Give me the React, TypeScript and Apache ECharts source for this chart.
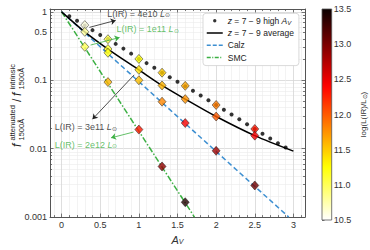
import React, { useEffect, useRef } from 'react';
import * as echarts from 'echarts';

// ---------- data ----------
const avTicks = [0, 0.5, 1, 1.5, 2, 2.5, 3];
const fTickLabels = [0.001, 0.01, 0.1, 0.5, 1];
const cbarTicks = [10.5, 11, 11.5, 12, 12.5, 13, 13.5];

const highAv = [0.1, 0.2, 0.3, 0.4, 0.5, 0.6, 0.7, 0.8, 0.9, 1.0, 1.1, 1.2, 1.3, 1.4, 1.5, 1.6, 1.7, 1.8, 1.9, 2.0, 2.1, 2.2, 2.3, 2.4, 2.5, 2.6, 2.7, 2.8, 2.9];
const highF = [0.86, 0.74, 0.63, 0.54, 0.46, 0.4, 0.34, 0.29, 0.245, 0.205, 0.178, 0.152, 0.129, 0.111, 0.095, 0.082, 0.07, 0.06, 0.051, 0.0435, 0.037, 0.0315, 0.027, 0.0228, 0.0194, 0.0165, 0.0141, 0.012, 0.0104];

const avgAv = [0, 0.3, 0.6, 1.0, 1.3, 1.6, 2.0, 2.5, 3.0];
const avgF = [1, 0.51, 0.286, 0.142, 0.084, 0.053, 0.0295, 0.0155, 0.0092];

const calzAv = [0, 2.94];
const calzF = [1, 0.001];
const smcAv = [0, 1.72];
const smcF = [1, 0.001];

const diamondAv = [0.3, 0.3, 0.3, 0.6, 0.6, 0.6, 0.6, 1.0, 1.0, 1.0, 1.0, 1.3, 1.3, 1.3, 1.3, 1.6, 1.6, 1.6, 1.6, 2.0, 2.0, 2.0, 2.5, 2.5, 2.5];
const diamondF = [0.64, 0.51, 0.308, 0.398, 0.286, 0.252, 0.094, 0.205, 0.142, 0.1, 0.019, 0.129, 0.084, 0.0486, 0.0055, 0.0828, 0.053, 0.0237, 0.00165, 0.0435, 0.0295, 0.0093, 0.0194, 0.0155, 0.0029];
const diamondLogL = [10.6, 10.8, 11.0, 11.05, 11.15, 11.2, 11.6, 11.25, 11.4, 11.55, 12.3, 11.5, 11.6, 11.8, 12.9, 11.65, 11.75, 12.45, 13.4, 11.85, 12.0, 12.85, 12.3, 12.45, 13.05];

const annotText = ['L(IR) = 4e10', 'L(IR) = 1e11', 'L(IR) = 3e11', 'L(IR) = 2e12'];
const annotAv = [0.59, 0.71, -0.09, -0.09];
const annotF = [0.935, 0.556, 0.0205, 0.0115];
const arrowFromAv = [0.36, 0.375, 0.94, 0.93];
const arrowFromF = [0.593, 0.327, 0.12, 0.0175];
const arrowToAv = [0.7, 0.75, 0.4, 0.64];
const arrowToF = [0.749, 0.422, 0.027, 0.0144];

// ---------- style ----------
const FONT = '"Liberation Sans", Arial, sans-serif';
const AXIS = '#555';
const BLUE = '#3d8fd1';
const GREEN = '#3cb043';
const annotColor = ['#222', GREEN, '#222', GREEN];
const CMIN = 10.5;
const CMAX = 13.5;

const lg = (v: number) => Math.log10(v);

// matplotlib "hot" colormap; the colour bar uses it reversed
function hot(x: number): string {
  const r = x < 0.365079 ? 0.0416 + (1 - 0.0416) * (x / 0.365079) : 1;
  const g = x < 0.365079 ? 0 : x < 0.746032 ? (x - 0.365079) / (0.746032 - 0.365079) : 1;
  const b = x < 0.746032 ? 0 : (x - 0.746032) / (1 - 0.746032);
  return `rgb(${Math.round(r * 255)},${Math.round(g * 255)},${Math.round(b * 255)})`;
}
const N = 41;
const gradStops: { offset: number; color: string }[] = [];
for (let i = 0; i < N; i++) gradStops.push({ offset: i / (N - 1), color: hot(i / (N - 1)) });

const yMin = -3;
const yMax = Math.log10(1.1);
const majorY = [-3, -2, -1, 0];
const minorY: number[] = [];
for (const d of [-3, -2, -1]) for (let k = 2; k <= 9; k++) minorY.push(Math.log10(k * Math.pow(10, d)));
const minorX: number[] = [];
for (let i = -1; i <= 31; i++) if (i % 5 !== 0) minorX.push(+(i * 0.1).toFixed(1));

const xBase = { type: 'value', min: -0.15, max: 3.15, gridIndex: 0 };
const yBase = { type: 'value', min: yMin, max: yMax, gridIndex: 0 };
const noLabel = { show: false };

function frameAxis(base: any, pos: string, ticks: number[], len: number, line: boolean, split: any) {
  return {
    ...base,
    position: pos,
    axisLine: { show: line, onZero: false, lineStyle: { color: AXIS, width: 1 } },
    axisTick: { show: true, inside: true, length: len, customValues: ticks, lineStyle: { color: AXIS, width: 0.8 } },
    axisLabel: noLabel,
    splitLine: split,
  };
}

const majorSplit = { show: true, lineStyle: { color: '#d6d6d6', width: 0.8 } };
const minorSplit = { show: true, lineStyle: { color: '#ebebeb', width: 0.6 } };

const option: any = {
  animation: false,
  backgroundColor: '#fff',
  textStyle: { fontFamily: FONT },
  grid: [
    { left: 50, right: 65, top: 9, bottom: 30 },
    { left: 322, width: 9.7, top: 9, bottom: 30 },
  ],
  legend: {
    left: 203,
    top: 13.3,
    orient: 'vertical',
    z: 10,
    selectedMode: false,
    itemWidth: 16,
    itemHeight: 8,
    itemGap: 2.3,
    padding: [2.4, 5, 3, 3],
    backgroundColor: '#fff',
    borderColor: '#cfcfcf',
    borderWidth: 0.8,
    borderRadius: 3,
    textStyle: {
      fontSize: 8.5,
      lineHeight: 10,
      color: '#222',
      fontFamily: FONT,
      rich: { i: { fontStyle: 'italic', fontSize: 8.5, lineHeight: 10 }, s: { fontSize: 6, lineHeight: 6, verticalAlign: 'bottom', fontStyle: 'italic' } },
    },
    data: [
      { name: 'high', icon: 'path://M0,0M16,8M6.3,4A1.7,1.7,0,0,1,9.7,4A1.7,1.7,0,0,1,6.3,4Z' },
      { name: 'avg', itemStyle: { opacity: 0 }, lineStyle: { color: '#000', width: 1.5, type: 'solid' } },
      { name: 'Calz', itemStyle: { opacity: 0 }, lineStyle: { color: BLUE, width: 1.5, type: [4, 2] } },
      { name: 'SMC', itemStyle: { opacity: 0 }, lineStyle: { color: GREEN, width: 1.5, type: [4, 1.5, 1, 1.5] } },
    ],
    formatter: (n: string) =>
      n === 'high' ? '{i|z} = 7 − 9 high {i|A}{s|V}' : n === 'avg' ? '{i|z} = 7 − 9 average' : n,
  },
  xAxis: [
    {
      ...frameAxis(xBase, 'bottom', avTicks, 3.5, true, majorSplit),
      axisLabel: { show: true, customValues: avTicks, formatter: (v: number) => String(v), fontSize: 9, color: '#333', margin: 3 },
      name: '{i|A}{s|V}',
      nameLocation: 'middle',
      nameGap: 13,
      nameTextStyle: { fontSize: 11, color: '#333', rich: { i: { fontStyle: 'italic', fontSize: 11 }, s: { fontSize: 7, lineHeight: 7, verticalAlign: 'bottom', fontStyle: 'italic' } } },
    },
    frameAxis(xBase, 'bottom', minorX, 2, false, minorSplit),
    frameAxis(xBase, 'top', avTicks, 3.5, true, { show: false }),
    frameAxis(xBase, 'top', minorX, 2, false, { show: false }),
    { type: 'value', gridIndex: 1, min: 0, max: 1, show: false },
  ],
  yAxis: [
    {
      ...frameAxis(yBase, 'left', majorY, 3.5, true, majorSplit),
      axisLabel: {
        show: true,
        customValues: fTickLabels.map(lg),
        formatter: (v: number) => String(Number(Math.pow(10, v).toPrecision(3))),
        fontSize: 9,
        color: '#333',
        margin: 3,
      },
    },
    frameAxis(yBase, 'left', minorY, 2, false, minorSplit),
    frameAxis(yBase, 'right', majorY, 3.5, true, { show: false }),
    frameAxis(yBase, 'right', minorY, 2, false, { show: false }),
    {
      type: 'value',
      gridIndex: 1,
      position: 'right',
      min: CMIN,
      max: CMAX,
      interval: 0.5,
      axisLine: { show: false },
      axisTick: { show: true, length: 2.5, customValues: cbarTicks, lineStyle: { color: AXIS, width: 0.8 } },
      axisLabel: { fontSize: 9, color: '#333', margin: 2, customValues: cbarTicks, formatter: (v: number) => v.toFixed(1) },
      splitLine: { show: false },
      name: 'log(L(IR)/L{s|⊙})',
      nameLocation: 'middle',
      nameRotate: 90,
      nameGap: 28,
      nameTextStyle: { fontSize: 8, color: '#333', rich: { s: { fontSize: 6, lineHeight: 6, verticalAlign: 'bottom' } } },
    },
  ],
  series: [
    {
      name: 'Calz',
      type: 'line',
      z: 2,
      symbol: 'none',
      silent: true,
      color: BLUE,
      lineStyle: { color: BLUE, width: 1.5, type: [5, 3] },
      data: calzAv.map((a, i) => [a, lg(calzF[i])]),
    },
    {
      name: 'SMC',
      type: 'line',
      z: 2,
      symbol: 'none',
      silent: true,
      color: GREEN,
      lineStyle: { color: GREEN, width: 1.5, type: [6, 2, 1.5, 2] },
      data: smcAv.map((a, i) => [a, lg(smcF[i])]),
    },
    {
      name: 'avg',
      type: 'line',
      z: 3,
      symbol: 'none',
      smooth: 0.3,
      silent: true,
      color: '#000',
      lineStyle: { color: '#000', width: 1.5 },
      data: avgAv.map((a, i) => [a, lg(avgF[i])]),
    },
    {
      name: 'high',
      type: 'scatter',
      z: 3,
      symbol: 'circle',
      symbolSize: 4,
      silent: true,
      itemStyle: { color: '#000' },
      data: highAv.map((a, i) => [a, lg(highF[i])]),
    },
    {
      name: 'diamonds',
      type: 'scatter',
      z: 4,
      symbol: 'diamond',
      symbolSize: [8, 9],
      silent: true,
      itemStyle: { borderColor: '#111', borderWidth: 0.6 },
      data: diamondAv.map((a, i) => ({
        value: [a, lg(diamondF[i]), diamondLogL[i]],
        itemStyle: { color: hot(1 - (diamondLogL[i] - CMIN) / (CMAX - CMIN)) },
      })),
    },
    {
      name: 'annot',
      type: 'scatter',
      z: 6,
      symbolSize: 0,
      silent: true,
      data: annotAv.map((a, i) => ({
        value: [a, lg(annotF[i])],
        label: {
          show: true,
          position: [0, 0],
          align: 'left',
          verticalAlign: 'middle',
          fontSize: 9,
          color: annotColor[i],
          formatter: annotText[i] + ' {i|L}{s|⊙}',
          rich: {
            i: { fontStyle: 'italic', fontSize: 9, color: annotColor[i] },
            s: { fontSize: 6, lineHeight: 6, verticalAlign: 'bottom', color: annotColor[i] },
          },
        },
      })),
      markLine: {
        silent: true,
        symbol: ['none', 'arrow'],
        symbolSize: 5,
        label: { show: false },
        animation: false,
        data: arrowFromAv.map((a, i) => [
          { coord: [a, lg(arrowFromF[i])], lineStyle: { color: annotColor[i], width: 0.8, type: 'solid' } },
          { coord: [arrowToAv[i], lg(arrowToF[i])] },
        ]),
      },
    },
    {
      name: 'cbar',
      type: 'custom',
      xAxisIndex: 4,
      yAxisIndex: 4,
      silent: true,
      encode: { x: [0, 2], y: [1, 3] },
      data: [[0, CMIN, 1, CMAX]],
      renderItem: (_p: any, api: any) => {
        const p0 = api.coord([api.value(0), api.value(3)]);
        const p1 = api.coord([api.value(2), api.value(1)]);
        return {
          type: 'rect',
          shape: { x: p0[0], y: p0[1], width: p1[0] - p0[0], height: p1[1] - p0[1] },
          style: { fill: new echarts.graphic.LinearGradient(0, 0, 0, 1, gradStops), stroke: AXIS, lineWidth: 0.8 },
        };
      },
    },
  ],
  graphic: [
    {
      type: 'group',
      x: 17,
      y: 147,
      rotation: Math.PI / 2,
      silent: true,
      children: [
        { type: 'text', x: 0, y: 0, style: { text: 'f', fontSize: 12, fontStyle: 'italic', fontFamily: FONT, fill: '#222', verticalAlign: 'middle' } },
        { type: 'text', x: 6.5, y: -5, style: { text: 'attenuated', fontSize: 7.5, fontFamily: FONT, fill: '#222', verticalAlign: 'middle' } },
        { type: 'text', x: 6.5, y: 4.5, style: { text: '1500Å', fontSize: 7.5, fontFamily: FONT, fill: '#222', verticalAlign: 'middle' } },
        { type: 'text', x: 45, y: 0, style: { text: '/', fontSize: 12, fontFamily: FONT, fill: '#222', verticalAlign: 'middle' } },
        { type: 'text', x: 51, y: 0, style: { text: 'f', fontSize: 12, fontStyle: 'italic', fontFamily: FONT, fill: '#222', verticalAlign: 'middle' } },
        { type: 'text', x: 57.5, y: -5, style: { text: 'intrinsic', fontSize: 7.5, fontFamily: FONT, fill: '#222', verticalAlign: 'middle' } },
        { type: 'text', x: 57.5, y: 4.5, style: { text: '1500Å', fontSize: 7.5, fontFamily: FONT, fill: '#222', verticalAlign: 'middle' } },
      ],
    },
  ],
};

export default function App() {
  const ref = useRef<HTMLDivElement>(null);
  useEffect(() => {
    const chart = echarts.init(ref.current!, null, { renderer: 'svg' });
    chart.setOption(option);
    return () => chart.dispose();
  }, []);
  return <div ref={ref} style={{ position: 'fixed', left: 0, top: 0, width: 370, height: 250, background: '#fff' }} />;
}
